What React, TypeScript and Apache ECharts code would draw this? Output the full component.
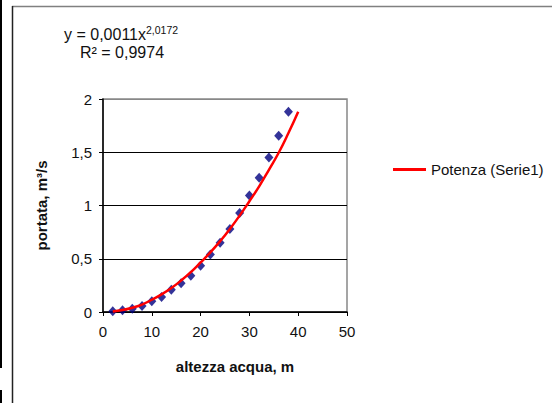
import React, { useEffect, useRef } from "react";
import * as echarts from "echarts";

const xValues = [2, 4, 6, 8, 10, 12, 14, 16, 18, 20, 22, 24, 26, 28, 30, 32, 34, 36, 38];
const yValues = [0.006, 0.016, 0.03, 0.056, 0.1, 0.14, 0.21, 0.27, 0.34, 0.435, 0.54, 0.65, 0.78, 0.93, 1.095, 1.26, 1.45, 1.655, 1.88];

const trendX = [2, 4, 6, 8, 10, 12, 14, 16, 18, 20, 22, 24, 26, 28, 30, 32, 34, 36, 38, 40];
const trendY = [0.005, 0.018, 0.04, 0.07, 0.115, 0.165, 0.225, 0.295, 0.375, 0.465, 0.56, 0.665, 0.78, 0.905, 1.04, 1.18, 1.335, 1.495, 1.68, 1.88];

const xTicks = [0, 10, 20, 30, 40, 50];
const yTickLabels = ["0", "0,5", "1", "1,5", "2"];

const FONT = "'Liberation Sans', Arial, sans-serif";

export default function App() {
  const ref = useRef<HTMLDivElement>(null);
  useEffect(() => {
    if (!ref.current) return;
    const chart = echarts.init(ref.current, null, { renderer: "svg" });
    chart.setOption({
      animation: false,
      backgroundColor: "#ffffff",
      textStyle: { fontFamily: FONT },
      grid: {
        left: 103,
        top: 99,
        width: 244,
        height: 213,
        show: true,
        borderColor: "#888888",
        borderWidth: 1.5,
        backgroundColor: "transparent",
      },
      legend: {
        left: 388,
        top: 157,
        itemWidth: 33,
        itemHeight: 3,
        data: [{ name: "Potenza (Serie1)", icon: "rect", itemStyle: { color: "#ff0000" } }],
        icon: "rect",
        textStyle: { fontSize: 15, color: "#111", fontFamily: FONT },
      },
      xAxis: {
        type: "value",
        min: 0,
        max: 50,
        interval: 10,
        name: "altezza acqua, m",
        nameLocation: "middle",
        nameGap: 47,
        nameTextStyle: { fontSize: 15, fontWeight: "bold", color: "#111", fontFamily: FONT, padding: [0, 0, 0, 20] },
        axisLine: { show: true, onZero: false, lineStyle: { color: "#000", width: 1.5 } },
        axisTick: { show: true, length: 4, lineStyle: { color: "#000" } },
        axisLabel: {
          fontSize: 15,
          color: "#111",
          margin: 12,
          fontFamily: FONT,
          formatter: (v: number) => (xTicks.includes(v) ? String(v) : ""),
        },
        splitLine: { show: false },
      },
      yAxis: {
        type: "value",
        min: 0,
        max: 2,
        interval: 0.5,
        name: "portata, m³/s",
        nameLocation: "middle",
        nameGap: 54,
        nameRotate: 90,
        nameTextStyle: { fontSize: 15, fontWeight: "bold", color: "#111", fontFamily: FONT },
        axisLine: { show: true, onZero: false, lineStyle: { color: "#000", width: 1.5 } },
        axisTick: { show: true, length: 4, lineStyle: { color: "#000" } },
        axisLabel: {
          fontSize: 15,
          color: "#111",
          margin: 11,
          fontFamily: FONT,
          formatter: (v: number) => yTickLabels[Math.round(v / 0.5)] ?? "",
        },
        splitLine: {
          show: true,
          lineStyle: { color: ["#000", "#000", "#000", "#000", "#888"], width: 1 },
        },
      },
      series: [
        {
          name: "Serie1",
          type: "scatter",
          data: xValues.map((x, i) => [x, yValues[i]]),
          symbol: "diamond",
          symbolSize: [9, 10],
          itemStyle: { color: "#000080" },
          z: 2,
        },
        {
          name: "Potenza (Serie1)",
          type: "line",
          data: trendX.map((x, i) => [x, trendY[i]]),
          smooth: true,
          symbol: "none",
          lineStyle: { color: "#ff0000", width: 2.5 },
          itemStyle: { color: "#ff0000" },
          z: 3,
        },
      ],
      graphic: [
        { type: "rect", shape: { x: 0, y: 0, width: 2, height: 368 }, style: { fill: "#000" } },
        { type: "rect", shape: { x: 0, y: 390, width: 2, height: 13 }, style: { fill: "#000" } },
        { type: "line", shape: { x1: 12, y1: 6.5, x2: 552, y2: 6.5 }, style: { stroke: "#808080", lineWidth: 1.5 } },
        { type: "line", shape: { x1: 12.5, y1: 6, x2: 12.5, y2: 403 }, style: { stroke: "#222", lineWidth: 1.5 } },
        {
          type: "text",
          left: 64,
          top: 24,
          style: {
            text: "{a|y = 0,0011x}{b|2,0172}",
            rich: {
              a: { fontSize: 16, fontFamily: FONT, fill: "#111", verticalAlign: "bottom", lineHeight: 18 },
              b: { fontSize: 10.5, fontFamily: FONT, fill: "#111", verticalAlign: "top", lineHeight: 18 },
            },
          },
        },
        {
          type: "text",
          left: 80,
          top: 44,
          style: { text: "R² = 0,9974", fontSize: 16, fontFamily: FONT, fill: "#111" },
        },
      ],
    });
    return () => chart.dispose();
  }, []);
  return (
    <div
      ref={ref}
      style={{ position: "fixed", left: 0, top: 0, width: 552, height: 403 }}
    />
  );
}
